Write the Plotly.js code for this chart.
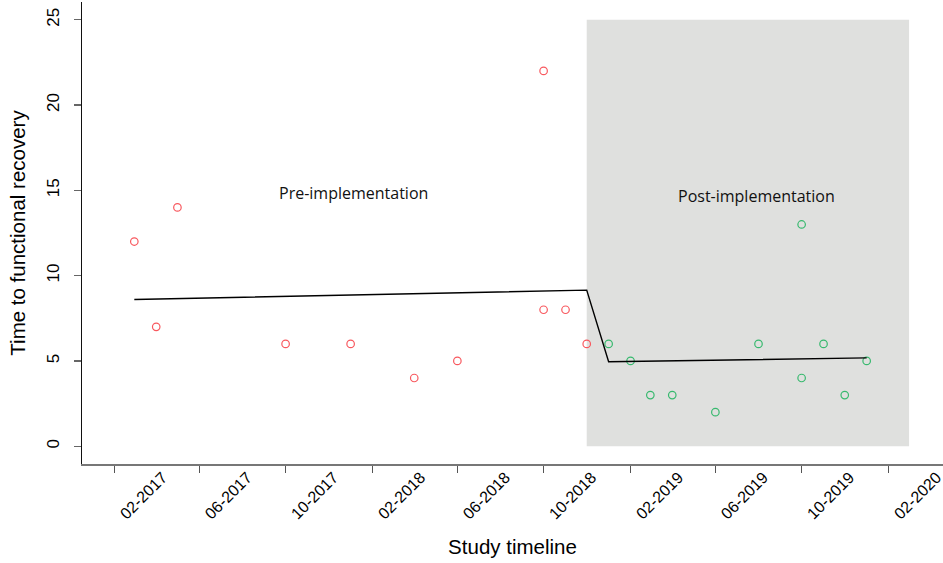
<!DOCTYPE html>
<html><head><meta charset="utf-8">
<script src="https://cdn.plot.ly/plotly-3.0.1.min.js"></script>
<style>html,body{margin:0;padding:0;background:#fff}#chart{width:943px;height:563px}</style>
</head><body><div id="chart"></div>
<script>
// Pre-implementation observations (month, time to functional recovery)
const preDates = ['2017-03-01','2017-04-01','2017-05-01','2017-10-01','2018-01-01','2018-04-01','2018-06-01','2018-10-01','2018-10-01','2018-11-01','2018-12-01'];
const preValues = [12, 7, 14, 6, 6, 4, 5, 22, 8, 8, 6];
// Post-implementation observations
const postDates = ['2019-01-01','2019-02-01','2019-03-01','2019-04-01','2019-06-01','2019-08-01','2019-10-01','2019-10-01','2019-11-01','2019-12-01','2020-01-01'];
const postValues = [6, 5, 3, 3, 2, 6, 13, 4, 6, 3, 5];
// Fitted segmented-regression line (end points of each segment)
const fitDates = ['2017-03-01','2018-12-01','2019-01-01','2020-01-01'];
const fitValues = [8.6, 9.15, 4.95, 5.18];
// Axis ticks
const xTickVals = ['2017-02-01','2017-06-01','2017-10-01','2018-02-01','2018-06-01','2018-10-01','2019-02-01','2019-06-01','2019-10-01','2020-02-01'];
const xTickText = ['02-2017','06-2017','10-2017','02-2018','06-2018','10-2018','02-2019','06-2019','10-2019','02-2020'];
const yTickVals = [0, 5, 10, 15, 20, 25];
// Shaded post-implementation period
const postStart = '2018-12-01', postEnd = '2020-03-01';

const xRange = ['2016-12-17', '2020-04-18'];
function shiftDate(s, days){ const d = new Date(s + 'T00:00:00Z'); d.setUTCDate(d.getUTCDate()+days); return d.toISOString().slice(0,10); }
// label axis: same ticks, range shifted so the slanted labels sit to the right of their tick marks (as in the original)
const labelRange = xRange.map(v => shiftDate(v, -68));

const traces = [
  {x: preDates, y: preValues, type:'scatter', mode:'markers', marker:{symbol:'circle-open', size:7.5, color:'#F8585E', line:{width:1.2}}, showlegend:false},
  {x: postDates, y: postValues, type:'scatter', mode:'markers', marker:{symbol:'circle-open', size:7.5, color:'#37B96E', line:{width:1.2}}, showlegend:false},
  {x: fitDates, y: fitValues, type:'scatter', mode:'lines', line:{color:'#000', width:1.4}, showlegend:false},
  {x: [xTickVals[0]], y:[null], xaxis:'x2', type:'scatter', mode:'markers', showlegend:false, hoverinfo:'skip'}
];

const layout = {
  width: 943, height: 563,
  margin: {l:82, r:0, t:2, b:99},
  paper_bgcolor:'#fff', plot_bgcolor:'#fff',
  font: {family:'Liberation Sans, Arial, sans-serif', color:'#000'},
  xaxis: {
    type:'date', range: xRange, tickvals: xTickVals,
    showticklabels:false,
    ticks:'outside', ticklen:7, tickcolor:'#555', tickwidth:1.3,
    showline:true, linecolor:'#777', linewidth:2, showgrid:false, zeroline:false
  },
  xaxis2: {
    type:'date', range: labelRange, overlaying:'x', anchor:'y', side:'bottom',
    tickvals: xTickVals, ticktext: xTickText, tickangle:-45, ticklabeloverflow:'allow',
    tickfont:{size:16, family:'Liberation Sans, Arial'},
    ticks:'', showline:false, showgrid:false, zeroline:false,
    title:{text:'Study timeline', font:{size:20.5, family:'Liberation Sans, Arial'}, standoff:18}
  },
  yaxis: {
    range:[-1.04, 26.04], tickvals: yTickVals, tickangle:-90,
    tickfont:{size:17, family:'Liberation Sans, Arial'},
    ticks:'outside', ticklen:7, tickcolor:'#666', tickwidth:1.3, ticklabelstandoff:8,
    showline:true, linecolor:'#111', linewidth:1.5, showgrid:false, zeroline:false,
    title:{text:'Time to functional recovery', font:{size:20.5, family:'Liberation Sans, Arial'}, standoff:12}
  },
  shapes: [
    {type:'rect', xref:'x', yref:'y', x0: postStart, x1: postEnd, y0:0, y1:25, fillcolor:'#DFE0DE', line:{width:0}, layer:'below'}
  ],
  annotations: [
    {x:'2018-01-05', y:14.85, xref:'x', yref:'y', text:'Pre-implementation', showarrow:false, font:{size:16, family:'Open Sans, Noto Sans, sans-serif', color:'#111'}},
    {x:'2019-07-29', y:14.65, xref:'x', yref:'y', text:'Post-implementation', showarrow:false, font:{size:16, family:'Open Sans, Noto Sans, sans-serif', color:'#111'}}
  ]
};

Plotly.newPlot('chart', traces, layout, {displayModeBar:false, staticPlot:true});
</script></body></html>
